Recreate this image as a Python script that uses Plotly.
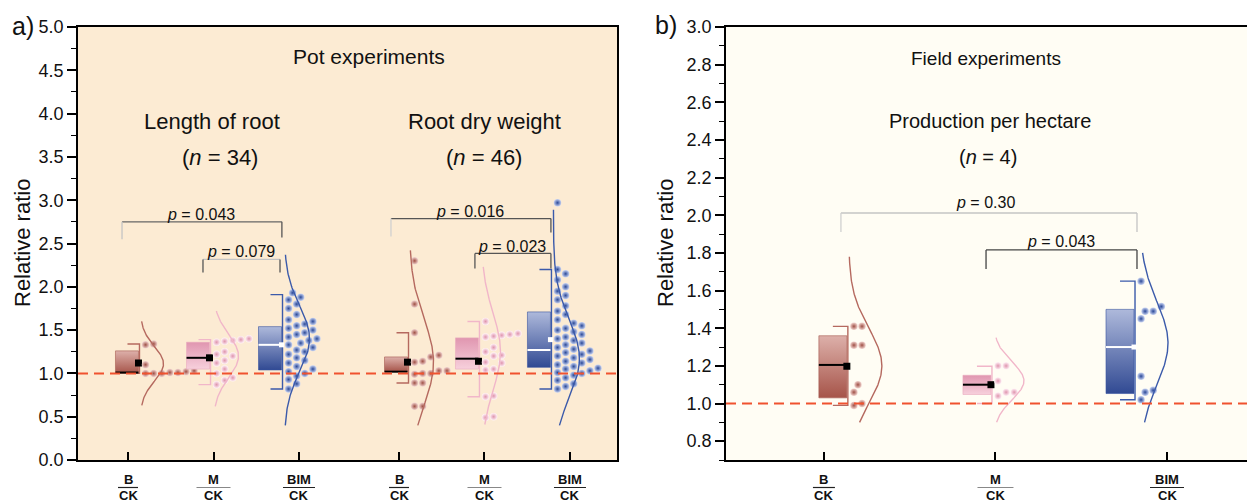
import numpy as np
import plotly.graph_objects as go

FONT = "Liberation Sans, Arial, sans-serif"
W, H = 1255, 504
OFF = 8  # the page body margin shifts the figure by 8 px

# ---------------- data ----------------
cat_num = ["B", "M", "BIM"]
cat_den = ["CK", "CK", "CK"]

# Pot experiments - Length of root (n = 34)
len_q1 = [1.00, 1.05, 1.04]
len_med = [1.01, 1.18, 1.33]
len_q3 = [1.26, 1.36, 1.54]
len_wlo = [1.00, 0.87, 0.82]
len_whi = [1.34, 1.39, 1.91]
len_mean = [1.12, 1.18, 1.33]
len_pts_B = [1.34, 1.33, 1.10, 1.03, 1.02, 1.01, 1.01, 1.00, 1.00, 1.00]
len_pts_M = [1.40, 1.39, 1.38, 1.37, 1.36, 1.25, 1.22, 1.20, 1.15, 1.12, 1.05, 1.00, 0.95, 0.92, 0.87]
len_pts_BIM = [1.93, 1.88, 1.85, 1.80, 1.75, 1.68, 1.62, 1.60, 1.57, 1.55, 1.52, 1.50, 1.47, 1.45,
               1.42, 1.40, 1.38, 1.35, 1.33, 1.30, 1.27, 1.25, 1.22, 1.18, 1.15, 1.12, 1.08, 1.05,
               1.02, 1.00, 0.97, 0.93, 0.88, 0.82]
len_fit_mu = [1.11, 1.20, 1.40]
len_fit_sd = [0.20, 0.25, 0.38]
len_fit_lo = [0.63, 0.62, 0.40]
len_fit_hi = [1.60, 1.72, 2.37]

# Pot experiments - Root dry weight (n = 46)
dw_q1 = [1.02, 1.05, 1.07]
dw_med = [1.02, 1.17, 1.27]
dw_q3 = [1.19, 1.41, 1.71]
dw_wlo = [0.89, 0.73, 0.82]
dw_whi = [1.47, 1.60, 2.20]
dw_mean = [1.13, 1.14, 1.39]
dw_pts_B = [2.30, 1.80, 1.47, 1.21, 1.19, 1.14, 1.13, 1.03, 1.03, 1.00, 1.00, 0.99, 0.89, 0.89, 0.62, 0.62]
dw_pts_M = [1.60, 1.46, 1.45, 1.44, 1.43, 1.42, 1.30, 1.25, 1.21, 1.20, 1.13, 1.12, 1.05, 1.04,
            0.74, 0.73, 0.50, 0.49]
dw_pts_BIM = [2.97, 2.20, 2.15, 2.08, 2.00, 1.95, 1.90, 1.85, 1.78, 1.72, 1.68, 1.62, 1.58, 1.55,
              1.52, 1.50, 1.48, 1.45, 1.42, 1.40, 1.38, 1.35, 1.33, 1.30, 1.28, 1.26, 1.24, 1.22,
              1.20, 1.18, 1.16, 1.14, 1.12, 1.10, 1.08, 1.06, 1.05, 1.03, 1.01, 1.00, 0.98, 0.95,
              0.92, 0.88, 0.85, 0.82]
dw_fit_mu = [1.13, 1.25, 1.17]
dw_fit_sd = [0.50, 0.45, 0.45]
dw_fit_lo = [0.40, 0.41, 0.40]
dw_fit_hi = [2.42, 2.23, 2.89]

# Field experiments - Production per hectare (n = 4)
pr_q1 = [1.03, 1.048, 1.053]
pr_med = [1.205, 1.10, 1.30]
pr_q3 = [1.36, 1.15, 1.50]
pr_wlo = [0.99, 1.00, 1.02]
pr_whi = [1.41, 1.198, 1.65]
pr_mean = [1.198, 1.10, 1.30]
pr_pts_B = [1.41, 1.41, 1.31, 1.31, 1.10, 1.06, 1.00, 0.99]
pr_pts_M = [1.20, 1.20, 1.12, 1.06, 1.06, 1.04]
pr_pts_BIM = [1.65, 1.515, 1.49, 1.49, 1.45, 1.145, 1.07, 1.06, 1.02]
pr_fit_mu = [1.20, 1.12, 1.32]
pr_fit_sd = [0.20, 0.10, 0.22]
pr_fit_lo = [0.90, 0.90, 0.90]
pr_fit_hi = [1.78, 1.35, 1.80]

p_len = ["0.043", "0.079"]
p_dw = ["0.016", "0.023"]
p_pr = ["0.30", "0.043"]

# ---------------- layout constants (window pixels) ----------------
A_L, A_R, TOP, BOT = 78, 617, 27, 460
B_L, B_R = 726, 1255
XA = [0.415, 6.72]
YA = [0.0, 5.0]
XB = [0.429, 3.513]
YB = [0.7, 3.0]
A_TICKS = [1, 2, 3, 4.17, 5.17, 6.17]
A_BOX = [0.988, 1.819, 2.661, 4.135, 4.965, 5.807]
B_TICKS = [1, 2, 3]
B_BOX = [1.052, 1.892, 2.726]

ppx_a = (A_R - A_L) / (XA[1] - XA[0])
ppy_a = (BOT - TOP) / (YA[1] - YA[0])
ppx_b = (B_R - B_L) / (XB[1] - XB[0])
ppy_b = (BOT - TOP) / (YB[1] - YB[0])


def fx(px):
    return (px - OFF) / W


def fy(py):
    return 1 - (py - OFF) / H


STY = {
    "B": dict(top="#ddb0aa", bot="#a65449", edge="#a65a50", line="#b5695f",
              pt="#f2d6d1", ptedge="#9f4f45", med="black", mean="black"),
    "M": dict(top="#e096b0", bot="#f7d0dc", edge="#eaa9be", line="#f1b6c9",
              pt="#fff2f6", ptedge="#df94ae", med="black", mean="black"),
    "BIM": dict(top="#aeb9db", bot="#314a93", edge="#3853a0", line="#3b5aaa",
                pt="#c9d4f2", ptedge="#2a4898", med="white", mean="white"),
}

fig = go.Figure()


def swarm(vals, ppy, d):
    idx = sorted(range(len(vals)), key=lambda i: vals[i])
    placed = []
    offs = [0.0] * len(vals)
    for i in idx:
        y = vals[i] * ppy
        k = 0
        while True:
            x = k * d * 0.5
            if all((x - a) ** 2 + (y - b) ** 2 >= (0.95 * d) ** 2 for a, b in placed):
                break
            k += 1
        placed.append((x, y))
        offs[i] = x
    return offs


def draw_group(xc, q1, med, q3, wlo, whi, mean, pts, mu, sd, lo, hi, cat,
               xa, ya, ppx, ppy, half_px, cap_px, msize, cbase, cwidth):
    s = STY[cat]
    half = half_px / ppx
    x0, x1 = xc - half, xc + half
    fig.add_trace(go.Scatter(
        x=[x0, x1, x1, x0, x0], y=[q1, q1, q3, q3, q1], mode="lines",
        fill="toself",
        fillgradient=dict(type="vertical", colorscale=[[0, s["bot"]], [1, s["top"]]],
                          start=q1, stop=q3),
        line=dict(color=s["edge"], width=0.6), xaxis=xa, yaxis=ya,
        hoverinfo="skip", showlegend=False))
    cap = cap_px / ppx
    xw = x1 + 1.0 / ppx
    fig.add_trace(go.Scatter(
        x=[xw - cap, xw, xw, xw - cap], y=[whi, whi, wlo, wlo], mode="lines",
        line=dict(color=s["line"], width=1.4), xaxis=xa, yaxis=ya,
        hoverinfo="skip", showlegend=False))
    fig.add_trace(go.Scatter(
        x=[x0, x1], y=[med, med], mode="lines",
        line=dict(color=s["med"], width=2), xaxis=xa, yaxis=ya,
        hoverinfo="skip", showlegend=False))
    fig.add_trace(go.Scatter(
        x=[x1], y=[mean], mode="markers",
        marker=dict(symbol="square", size=7 if s["mean"] == "black" else 5,
                    color=s["mean"], line=dict(width=0)),
        xaxis=xa, yaxis=ya, hoverinfo="skip", showlegend=False))
    d = msize + 0.6
    offs = swarm(pts, ppy, d)
    px = [x1 + (3 + d / 2 + o) / ppx for o in offs]
    fig.add_trace(go.Scatter(
        x=px, y=pts, mode="markers",
        marker=dict(size=msize, color=s["pt"],
                    gradient=dict(type="radial", color=s["ptedge"]),
                    line=dict(width=0)),
        xaxis=xa, yaxis=ya, hoverinfo="skip", showlegend=False))
    ys = np.linspace(lo, hi, 150)
    xs = x1 + (cbase + cwidth * np.exp(-0.5 * ((ys - mu) / sd) ** 2)) / ppx
    fig.add_trace(go.Scatter(
        x=xs, y=ys, mode="lines", line=dict(color=s["line"], width=1.4),
        xaxis=xa, yaxis=ya, hoverinfo="skip", showlegend=False))


curve_a = [(2, 23), (4, 25), (3, 25)]
curve_a2 = [(2, 24), (3, 19), (3, 26)]
curve_b = [(2, 33), (3, 30), (6, 28)]

for i, c in enumerate(cat_num):
    draw_group(A_BOX[i], len_q1[i], len_med[i], len_q3[i], len_wlo[i], len_whi[i], len_mean[i],
               [len_pts_B, len_pts_M, len_pts_BIM][i], len_fit_mu[i], len_fit_sd[i],
               len_fit_lo[i], len_fit_hi[i], c, "x", "y", ppx_a, ppy_a, 11.5, 12, 7.5,
               curve_a[i][0], curve_a[i][1])
    draw_group(A_BOX[3 + i], dw_q1[i], dw_med[i], dw_q3[i], dw_wlo[i], dw_whi[i], dw_mean[i],
               [dw_pts_B, dw_pts_M, dw_pts_BIM][i], dw_fit_mu[i], dw_fit_sd[i],
               dw_fit_lo[i], dw_fit_hi[i], c, "x", "y", ppx_a, ppy_a, 11.5, 12, 7.5,
               curve_a2[i][0], curve_a2[i][1])
    draw_group(B_BOX[i], pr_q1[i], pr_med[i], pr_q3[i], pr_wlo[i], pr_whi[i], pr_mean[i],
               [pr_pts_B, pr_pts_M, pr_pts_BIM][i], pr_fit_mu[i], pr_fit_sd[i],
               pr_fit_lo[i], pr_fit_hi[i], c, "x2", "y2", ppx_b, ppy_b, 14, 15, 7.5,
               curve_b[i][0], curve_b[i][1])

shapes = []
shapes.append(dict(type="rect", xref="x domain", yref="y domain", x0=0, x1=1, y0=0, y1=1,
                   fillcolor="#fcebd3", line=dict(width=0), layer="below"))
shapes.append(dict(type="rect", xref="x2 domain", yref="y2 domain", x0=0, x1=1, y0=0, y1=1,
                   fillcolor="#fffdf4", line=dict(width=0), layer="below"))
for xr, yr in (("x domain", "y"), ("x2 domain", "y2")):
    shapes.append(dict(type="line", xref=xr, yref=yr, x0=0, x1=1, y0=1.0, y1=1.0,
                       line=dict(color="#f0522f", width=2, dash="10px,6px"), layer="above"))

brackets = [
    ("x", "y", 0.93, 2.80, 2.75, 2.55, 2.57, "#666", "#c4c4c4", "#555"),
    ("x", "y", 1.877, 2.778, 2.316, 2.166, 2.166, "#c4c4c4", "#555", "#555"),
    ("x", "y", 4.076, 5.947, 2.788, 2.58, 2.627, "#555", "#d0d0d0", "#555"),
    ("x", "y", 5.058, 5.947, 2.385, 2.21, 2.21, "#555", "#555", "#555"),
    ("x2", "y2", 1.099, 2.825, 2.012, 1.911, 1.911, "#c4c4c4", "#d0d0d0", "#c4c4c4"),
    ("x2", "y2", 1.945, 2.825, 1.816, 1.715, 1.715, "#444", "#444", "#444"),
]
for xr, yr, bx0, bx1, by, bl, br, ch, cl, cr in brackets:
    shapes.append(dict(type="line", xref=xr, yref=yr, x0=bx0, x1=bx1, y0=by, y1=by,
                       line=dict(color=ch, width=1.3)))
    shapes.append(dict(type="line", xref=xr, yref=yr, x0=bx0, x1=bx0, y0=by, y1=bl,
                       line=dict(color=cl, width=1.3)))
    shapes.append(dict(type="line", xref=xr, yref=yr, x0=bx1, x1=bx1, y0=by, y1=br,
                       line=dict(color=cr, width=1.3)))

annotations = []


def ann(text, xpx, ypx, size, **kw):
    annotations.append(dict(text=text, x=fx(xpx), y=fy(ypx), xref="paper", yref="paper",
                            showarrow=False, xanchor="center", yanchor="middle",
                            font=dict(family=FONT, size=size, color="#111"), **kw))


bar_half_a = [10, 17, 16]
bar_half_b = [11, 18, 17]
for ticks, xr, ppx, bh in ((A_TICKS, "x", ppx_a, bar_half_a * 2),
                           (B_TICKS, "x2", ppx_b, bar_half_b)):
    for j, t in enumerate(ticks):
        k = j % 3
        annotations.append(dict(text="<b>%s</b>" % cat_num[k], x=t, xref=xr,
                                y=fy(479), yref="paper", showarrow=False,
                                xanchor="center", yanchor="middle",
                                font=dict(family=FONT, size=13, color="#111")))
        annotations.append(dict(text="<b>%s</b>" % cat_den[k], x=t, xref=xr,
                                y=fy(495.5), yref="paper", showarrow=False,
                                xanchor="center", yanchor="middle",
                                font=dict(family=FONT, size=13, color="#111")))
        shapes.append(dict(type="line", xref=xr, yref="paper",
                           x0=t - bh[j] / ppx, x1=t + bh[j] / ppx,
                           y0=fy(487.5), y1=fy(487.5),
                           line=dict(color="#888" if k == 1 else "#222", width=1.2)))

ann("<i>p</i> = %s" % p_len[0], 201, 214, 16)
ann("<i>p</i> = %s" % p_len[1], 241, 251, 16)
ann("<i>p</i> = %s" % p_dw[0], 470, 211, 16)
ann("<i>p</i> = %s" % p_dw[1], 512, 246, 16)
ann("<i>p</i> = %s" % p_pr[0], 985, 203, 16)
ann("<i>p</i> = %s" % p_pr[1], 1061, 241, 16)

ann("Pot experiments", 369, 57, 21)
ann("Length of root", 212, 122, 22)
ann("(<i>n</i> = 34)", 220, 157, 22)
ann("Root dry weight", 484, 122, 22)
ann("(<i>n</i> = 46)", 484, 157, 22)
ann("Field experiments", 986, 59, 19)
ann("Production per hectare", 990, 121, 20)
ann("(<i>n</i> = 4)", 988, 157, 20)
ann("a)", 23, 26, 25)
ann("b)", 666, 25, 25)
ann("Relative ratio", 22, 243, 22, textangle=-90)
ann("Relative ratio", 665, 243, 22, textangle=-90)

ydom = [fy(BOT), fy(TOP)]
axis_common = dict(showgrid=False, zeroline=False, showline=True, linecolor="black",
                   linewidth=1.5, automargin=False)
fig.update_layout(
    width=W, height=H, autosize=False, margin=dict(l=0, r=0, t=0, b=0, pad=0),
    paper_bgcolor="white", plot_bgcolor="rgba(0,0,0,0)",
    showlegend=False,
    xaxis=dict(domain=[fx(A_L), fx(A_R)], range=XA, anchor="y", mirror=True,
               tickvals=A_TICKS, ticks="inside", ticklen=8, tickwidth=1.5,
               tickcolor="black", showticklabels=False, **axis_common),
    yaxis=dict(domain=ydom, range=YA, anchor="x", mirror=True,
               tickvals=[0, 0.5, 1, 1.5, 2, 2.5, 3, 3.5, 4, 4.5, 5],
               ticktext=["0.0", "0.5", "1.0", "1.5", "2.0", "2.5", "3.0", "3.5", "4.0", "4.5", "5.0"],
               ticks="outside", ticklen=9, tickwidth=1.5, tickcolor="black",
               minor=dict(ticks="outside", ticklen=5, tickwidth=1.3, tickcolor="black",
                          tick0=0.25, dtick=0.5, showgrid=False),
               tickfont=dict(family=FONT, size=18, color="#111"), **axis_common),
    xaxis2=dict(domain=[fx(B_L), fx(B_R)], range=XB, anchor="y2", mirror=True,
                tickvals=B_TICKS, ticks="inside", ticklen=8, tickwidth=1.5,
                tickcolor="black", showticklabels=False, **axis_common),
    yaxis2=dict(domain=ydom, range=YB, anchor="x2", mirror=False,
                tickvals=[0.8, 1.0, 1.2, 1.4, 1.6, 1.8, 2.0, 2.2, 2.4, 2.6, 2.8, 3.0],
                ticktext=["0.8", "1.0", "1.2", "1.4", "1.6", "1.8", "2.0", "2.2", "2.4", "2.6", "2.8", "3.0"],
                ticks="outside", ticklen=9, tickwidth=1.5, tickcolor="black",
                minor=dict(ticks="outside", ticklen=5, tickwidth=1.3, tickcolor="black",
                           tick0=0.9, dtick=0.2, showgrid=False),
                tickfont=dict(family=FONT, size=18, color="#111"), **axis_common),
    shapes=shapes, annotations=annotations,
)

fig.write_html("out.html")
